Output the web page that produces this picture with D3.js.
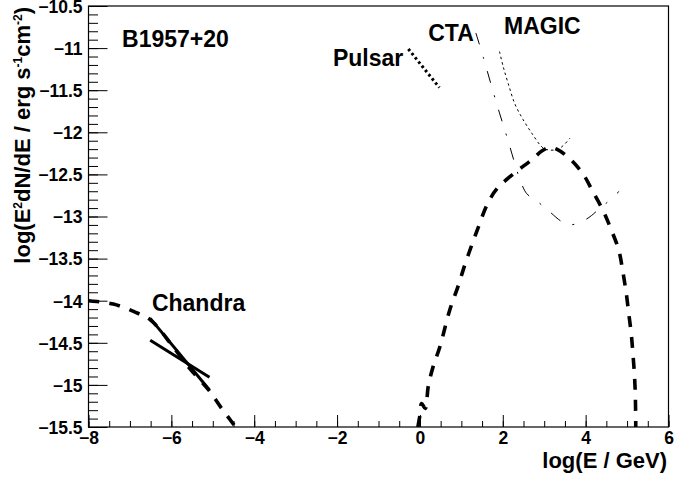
<!DOCTYPE html>
<html><head><meta charset="utf-8">
<script src="https://cdn.jsdelivr.net/npm/d3@7"></script>
<style>
body{margin:0;background:#fff;}
svg text{font-family:"Liberation Sans",Arial,Helvetica,sans-serif;font-weight:bold;fill:#000;}
</style></head>
<body><svg id="c" width="698" height="482"></svg>
<script>
// ---- data ----
const xDomain = [-8, 6];
const yDomain = [-15.5, -10.5];
const xTickValues = [-8, -6, -4, -2, 0, 2, 4, 6];
const yTickValues = [-15.5, -15, -14.5, -14, -13.5, -13, -12.5, -12, -11.5, -11, -10.5];

const syncX = [-8, -7.8, -7.4, -6.9, -6.5, -6.0, -5.6, -5.1, -4.8, -4.45];
const syncY = [-14.0, -14.01, -14.04, -14.13, -14.23, -14.52, -14.78, -15.06, -15.27, -15.5];

const icX = [-0.05, 0.0, 0.04, 0.13, 0.2, 0.32, 0.48, 0.72, 0.92, 1.08, 1.25, 1.43, 1.62, 1.86, 2.29, 2.69, 2.95, 3.13, 3.3, 3.61, 3.93, 4.18, 4.42, 4.62, 4.8, 4.9, 4.98, 5.04, 5.10, 5.14, 5.18, 5.20, 5.21];
const icY = [-15.5, -15.36, -15.22, -15.28, -15.02, -14.78, -14.55, -14.11, -13.83, -13.58, -13.34, -13.10, -12.86, -12.67, -12.48, -12.33, -12.22, -12.18, -12.2, -12.31, -12.49, -12.71, -12.93, -13.16, -13.40, -13.66, -13.91, -14.15, -14.39, -14.62, -14.90, -15.14, -15.5];

const pulsarX = [-0.28, 0.47];
const pulsarY = [-11.01, -11.47];

const chandraAX = [-6.51, -5.08];
const chandraAY = [-14.21, -15.06];
const chandraBX = [-6.51, -5.08];
const chandraBY = [-14.47, -14.91];

const ctaX = [1.35, 1.53, 1.71, 1.92, 2.11, 2.29, 2.42, 2.58, 2.78, 3.1, 3.42, 3.62, 4.02, 4.35, 4.55, 4.81];
const ctaY = [-10.82, -11.11, -11.42, -11.77, -12.07, -12.37, -12.57, -12.73, -12.80, -12.93, -13.06, -13.10, -13.03, -12.9, -12.82, -12.70];

const magicX = [1.92, 2.01, 2.13, 2.29, 2.49, 2.70, 2.90, 3.02, 3.34, 3.62];
const magicY = [-11.04, -11.22, -11.42, -11.66, -11.85, -12.01, -12.15, -12.2, -12.2, -12.07];

const labels = [
  {text: "B1957+20", x: -7.19, y: -10.99},
  {text: "Pulsar", x: -2.10, y: -11.21},
  {text: "CTA", x: 0.20, y: -10.91},
  {text: "MAGIC", x: 2.03, y: -10.83},
  {text: "Chandra", x: -6.47, y: -14.12}
];

// ---- layout ----
const L = 88.5, R = 668.5, T = 6, B = 427;
const svg = d3.select("#c");
const x = d3.scaleLinear().domain(xDomain).range([L, R]);
const y = d3.scaleLinear().domain(yDomain).range([B, T]);
const FONT = "Liberation Sans, Arial, sans-serif";

// frame
svg.append("rect").attr("x", L).attr("y", T).attr("width", R - L).attr("height", B - T)
  .attr("fill", "none").attr("stroke", "#000").attr("stroke-width", 1.2);

// x axis
const xMinor = d3.range(xDomain[0], xDomain[1] + 0.001, 0.5);
const gx = svg.append("g").attr("transform", `translate(0,${B})`);
gx.call(d3.axisBottom(x).tickValues(xMinor).tickSize(-6).tickFormat(""))
  .call(g => g.select(".domain").remove());
gx.append("g").call(d3.axisBottom(x).tickValues(xTickValues).tickSize(-12).tickFormat(d3.format("d")))
  .call(g => g.select(".domain").remove())
  .call(g => g.selectAll("text").attr("y", 17).attr("dy", 0).attr("font-size", 17.5).attr("font-weight", "bold")
      .attr("fill", "#000").attr("font-family", FONT));

// y axis
const yMinor = d3.range(0, 51).map(i => yDomain[0] + i * 0.1);
const gy = svg.append("g").attr("transform", `translate(${L},0)`);
gy.call(d3.axisLeft(y).tickValues(yMinor).tickSize(-9.5).tickFormat(""))
  .call(g => g.select(".domain").remove());
gy.append("g").call(d3.axisLeft(y).tickValues(yTickValues).tickSize(-19).tickFormat(d => d3.format("")(d)))
  .call(g => g.select(".domain").remove())
  .call(g => g.selectAll("text").attr("x", -6).attr("dy", "0.36em").attr("font-size", 17.5).attr("font-weight", "bold")
      .attr("fill", "#000").attr("font-family", FONT));
svg.selectAll(".tick line").attr("stroke", "#000");

// titles
svg.append("text").attr("x", 667).attr("y", 468).attr("text-anchor", "end")
  .attr("font-size", 22).text("log(E / GeV)");
const yt = svg.append("text").attr("transform", "translate(30,7) rotate(-90)")
  .attr("text-anchor", "end").attr("font-size", 22);
yt.append("tspan").text("log(E");
yt.append("tspan").attr("font-size", 12).attr("dy", -8).text("2");
yt.append("tspan").attr("dy", 8).text("dN/dE / erg s");
yt.append("tspan").attr("font-size", 12).attr("dy", -8).text("-1");
yt.append("tspan").attr("dy", 8).text("cm");
yt.append("tspan").attr("font-size", 12).attr("dy", -8).text("-2");
yt.append("tspan").attr("dy", 8).text(")");

// curves
const line = d3.line().x(d => x(d[0])).y(d => y(d[1])).curve(d3.curveCatmullRom.alpha(0.5));
const straight = d3.line().x(d => x(d[0])).y(d => y(d[1]));
const zip = (a, b) => a.map((v, i) => [v, b[i]]);
svg.append("clipPath").attr("id", "fr").append("rect")
  .attr("x", L).attr("y", T).attr("width", R - L).attr("height", B - T);
const plot = svg.append("g").attr("clip-path", "url(#fr)");

plot.append("path").attr("d", line(zip(syncX, syncY))).attr("fill", "none")
  .attr("stroke", "#000").attr("stroke-width", 3.6).attr("stroke-dasharray", "11,10");
plot.append("path").attr("d", line(zip(icX, icY))).attr("fill", "none")
  .attr("stroke", "#000").attr("stroke-width", 3.6).attr("stroke-dasharray", "11,10");
plot.append("path").attr("d", straight(zip(chandraAX, chandraAY))).attr("fill", "none")
  .attr("stroke", "#000").attr("stroke-width", 3);
plot.append("path").attr("d", straight(zip(chandraBX, chandraBY))).attr("fill", "none")
  .attr("stroke", "#000").attr("stroke-width", 3);
plot.append("path").attr("d", straight(zip(pulsarX, pulsarY))).attr("fill", "none")
  .attr("stroke", "#000").attr("stroke-width", 3).attr("stroke-dasharray", "2.6,2.8");
plot.append("path").attr("d", line(zip(ctaX, ctaY))).attr("fill", "none")
  .attr("stroke", "#000").attr("stroke-width", 1).attr("stroke-dasharray", "12,13,2,13");
plot.append("path").attr("d", line(zip(magicX, magicY))).attr("fill", "none")
  .attr("stroke", "#000").attr("stroke-width", 1).attr("stroke-dasharray", "2.5,3");

// labels
svg.selectAll("text.lab").data(labels).enter().append("text").attr("class", "lab")
  .attr("x", d => x(d.x)).attr("y", d => y(d.y)).attr("font-size", 23).text(d => d.text);
</script></body></html>
